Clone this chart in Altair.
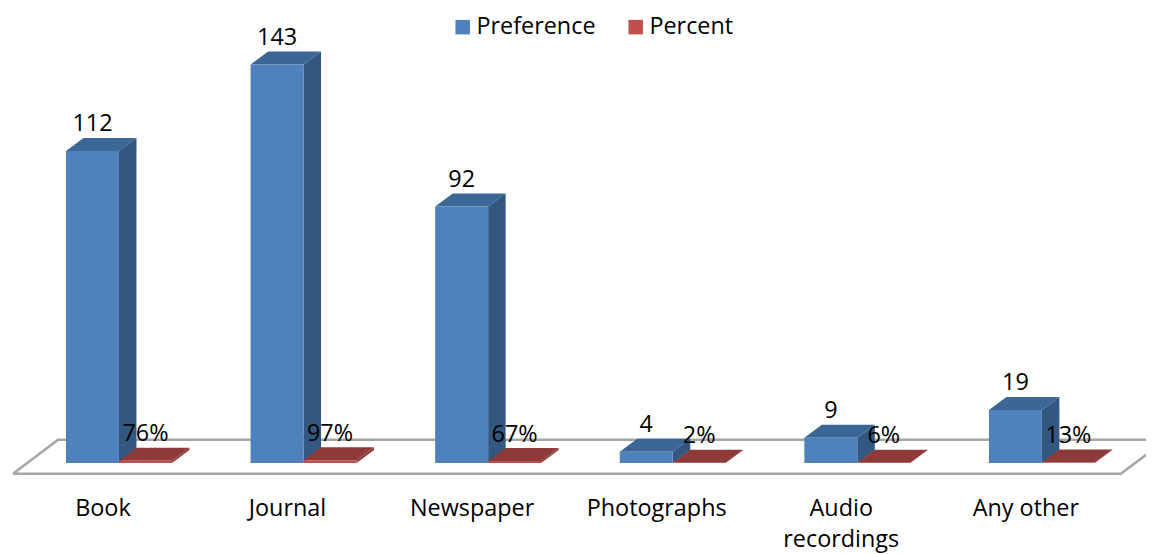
import altair as alt
import pandas as pd

categories = ["Book", "Journal", "Newspaper", "Photographs", "Audio\nrecordings", "Any other"]
preference = [112, 143, 92, 4, 9, 19]
percent = [0.76, 0.97, 0.67, 0.02, 0.06, 0.13]
percent_labels = ["76%", "97%", "67%", "2%", "6%", "13%"]
series_names = ["Preference", "Percent"]
series_colors = ["#4f81bd", "#c0504d"]

FONT = "Open Sans"
FS = 23.4
W, H = 1138, 546
X_DOMAIN = [-0.3142, 5.851]
Y_DOMAIN = [-32.7, 163.3]
BAR = 0.287
DX = 0.0948
DY = 4.67
LABEL_CENTER = 0.2
CAT_LABEL_Y = -16.5

x_scale = alt.Scale(domain=X_DOMAIN, nice=False, zero=False)
y_scale = alt.Scale(domain=Y_DOMAIN, nice=False, zero=False)
X = alt.X("x:Q", scale=x_scale, axis=None)
Y = alt.Y("y:Q", scale=y_scale, axis=None)

front, side, top, labels = [], [], [], []
for idx, name in enumerate(series_names):
    values = preference if idx == 0 else percent
    texts = [str(v) for v in preference] if idx == 0 else percent_labels
    for i, (v, t) in enumerate(zip(values, texts)):
        x0 = i + idx * BAR
        x1 = x0 + BAR
        key = f"{name}-{i}"
        front.append({"series": name, "x": x0, "x2": x1, "y": v, "y2": 0})
        side.append({"series": name, "key": key, "x": x1, "y": v, "y2": 0})
        side.append({"series": name, "key": key, "x": x1 + DX, "y": v + DY, "y2": DY})
        top.append({"series": name, "key": key, "y": v, "x": x0, "x2": x1})
        top.append({"series": name, "key": key, "y": v + DY, "x": x0 + DX, "x2": x1 + DX})
        labels.append({"x": (x0 + x1) / 2, "y": v + DY, "text": t})

front_df, side_df, top_df = pd.DataFrame(front), pd.DataFrame(side), pd.DataFrame(top)

floor_df = pd.DataFrame({
    "x": [-0.287, 5.715, 5.959, -0.043, -0.287],
    "y": [-3.9, -3.9, 8.3, 8.3, -3.9],
    "o": [0, 1, 2, 3, 4],
})
floor = alt.Chart(floor_df).mark_line(
    color="#a6a6a6", strokeWidth=2.6, clip=True, strokeJoin="miter"
).encode(x=X, y=Y, order="o:Q")

def sides(name, color):
    d = side_df[side_df.series == name]
    return alt.Chart(d).mark_area(color=color, orient="vertical", clip=True).encode(
        x=X, y=Y, y2="y2:Q", detail="key:N")

def tops(name, color):
    d = top_df[top_df.series == name]
    return alt.Chart(d).mark_area(color=color, orient="horizontal", clip=True).encode(
        y=Y, x=X, x2="x2:Q", detail="key:N")

fronts = alt.Chart(front_df).mark_rect().encode(
    x=X, x2="x2:Q", y=Y, y2="y2:Q",
    color=alt.Color(
        "series:N",
        scale=alt.Scale(domain=series_names, range=series_colors),
        legend=alt.Legend(
            orient="none", legendX=443, legendY=7, direction="horizontal", title=None,
            symbolType="square", symbolSize=210, symbolStrokeWidth=0, labelFont=FONT,
            labelFontSize=FS, labelColor="#000000", columnPadding=28, labelOffset=2,
        ),
    ),
)

value_text = alt.Chart(pd.DataFrame(labels)).mark_text(
    font=FONT, fontSize=FS, color="#000000", baseline="bottom", align="center", dy=-1.5
).encode(x=X, y=Y, text="text:N")

cat_df = pd.DataFrame({
    "x": [i + LABEL_CENTER for i in range(len(categories))],
    "y": [CAT_LABEL_Y] * len(categories),
    "text": categories,
})
cat_text = alt.Chart(cat_df).mark_text(
    font=FONT, fontSize=FS, color="#000000", baseline="middle", align="center",
    lineBreak="\n", lineHeight=31.5
).encode(x=X, y=Y, text="text:N")

chart = alt.layer(
    floor,
    sides("Preference", "#325780"),
    tops("Preference", "#3c6696"),
    tops("Percent", "#8e3a38"),
    sides("Percent", "#8e3a38"),
    fronts,
    value_text,
    cat_text,
).properties(
    width=W, height=H, padding=0, background="#ffffff",
    autosize=alt.AutoSizeParams(type="none"),
).configure_view(stroke=None)

chart.save("out.html", embed_options={"renderer": "svg", "actions": False})
